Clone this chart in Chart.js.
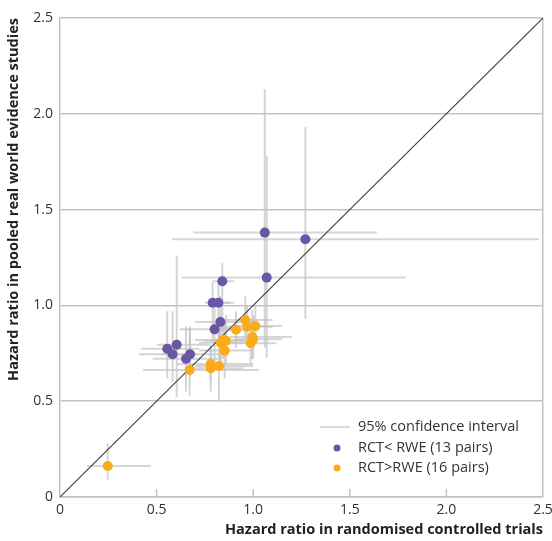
<!DOCTYPE html>
<html>
<head>
<meta charset="utf-8">
<script src="https://cdn.jsdelivr.net/npm/chart.js@4.4.1/dist/chart.umd.min.js"></script>
<style>
  html, body { margin: 0; padding: 0; background: #fff; }
  #wrap { width: 552px; height: 541px; }
</style>
</head>
<body>
<div id="wrap"><canvas id="chart" width="552" height="541"></canvas></div>
<script>
// ── Data (hazard ratios) ────
const TICKS = [0, 0.5, 1.0, 1.5, 2.0, 2.5];
const DIAG = [0, 2.5];

// RCT < RWE (13 pairs)
const rctP   = [1.06, 1.27, 1.07, 0.84, 0.79, 0.82, 0.83, 0.80, 0.555, 0.604, 0.583, 0.673, 0.652];
const rweP   = [1.38, 1.345, 1.145, 1.126, 1.014, 1.014, 0.913, 0.875, 0.774, 0.795, 0.745, 0.745, 0.722];
const rctPLo = [0.69, 0.58, 0.63, 0.79, 0.75, 0.78, 0.70, 0.62, 0.42, 0.50, 0.41, 0.52, 0.48];
const rctPHi = [1.64, 2.48, 1.79, 0.90, 0.88, 0.90, 1.02, 0.98, 0.72, 0.78, 0.71, 0.87, 0.83];
const rwePLo = [0.78, 0.93, 0.73, 0.86, 0.80, 0.82, 0.70, 0.70, 0.62, 0.52, 0.60, 0.63, 0.55];
const rwePHi = [2.13, 1.93, 1.78, 1.22, 1.12, 1.12, 1.05, 1.03, 0.97, 1.26, 0.97, 0.89, 0.89];

// RCT > RWE (16 pairs)
const rctO   = [0.247, 0.671, 0.78, 0.78, 0.823, 0.852, 0.832, 0.859, 0.845, 0.911, 0.959, 0.969, 1.011, 1.0, 0.987, 0.995];
const rweO   = [0.162, 0.663, 0.694, 0.672, 0.684, 0.764, 0.805, 0.816, 0.82, 0.873, 0.924, 0.889, 0.892, 0.823, 0.802, 0.835];
const rctOLo = [0.14, 0.43, 0.60, 0.65, 0.70, 0.72, 0.72, 0.75, 0.70, 0.82, 0.82, 0.85, 0.90, 0.90, 0.85, 0.88];
const rctOHi = [0.47, 1.03, 1.00, 0.95, 1.00, 1.00, 0.98, 1.00, 0.95, 1.02, 1.10, 1.10, 1.15, 1.15, 1.12, 1.20];
const rweOLo = [0.09, 0.53, 0.60, 0.55, 0.50, 0.62, 0.70, 0.70, 0.72, 0.78, 0.82, 0.80, 0.80, 0.72, 0.70, 0.72];
const rweOHi = [0.28, 0.88, 0.79, 0.78, 0.88, 0.92, 0.95, 0.95, 0.93, 0.97, 1.05, 1.00, 1.00, 0.95, 0.92, 0.98];

const LEGEND = ['95% confidence interval', 'RCT< RWE (13 pairs)', 'RCT>RWE (16 pairs)'];

const PURPLE = '#6a56a5';
const ORANGE = '#fbab19';
const GRID = '#c2c2c2';
const CI_COL = 'rgba(195,195,195,0.7)';
const FONT = "'Open Sans', sans-serif";

const pts = (xs, ys) => xs.map((x, i) => ({ x, y: ys[i] }));

// ── Plugin: confidence interval bars + inward x ticks ────
const ciBars = {
    id: 'ciBars',
    beforeDatasetsDraw(chart) {
        const { ctx, scales: { x, y }, chartArea } = chart;
        const groups = [
            [rctP, rweP, rctPLo, rctPHi, rwePLo, rwePHi],
            [rctO, rweO, rctOLo, rctOHi, rweOLo, rweOHi]
        ];
        ctx.save();
        ctx.beginPath();
        ctx.rect(chartArea.left, chartArea.top, chartArea.right - chartArea.left, chartArea.bottom - chartArea.top);
        ctx.clip();
        ctx.strokeStyle = CI_COL;
        ctx.lineWidth = 2;
        groups.forEach(([xs, ys, xlo, xhi, ylo, yhi]) => {
            xs.forEach((v, i) => {
                const px = x.getPixelForValue(v), py = y.getPixelForValue(ys[i]);
                ctx.beginPath();
                ctx.moveTo(x.getPixelForValue(xlo[i]), py);
                ctx.lineTo(x.getPixelForValue(xhi[i]), py);
                ctx.moveTo(px, y.getPixelForValue(ylo[i]));
                ctx.lineTo(px, y.getPixelForValue(yhi[i]));
                ctx.stroke();
            });
        });
        ctx.restore();
        ctx.save();
        ctx.strokeStyle = GRID;
        ctx.lineWidth = 1.5;
        TICKS.slice(1, -1).forEach(t => {
            const px = x.getPixelForValue(t);
            ctx.beginPath();
            ctx.moveTo(px, chartArea.bottom);
            ctx.lineTo(px, chartArea.bottom - 8);
            ctx.stroke();
        });
        ctx.restore();
    }
};

// ── Plugin: legend inside the plot ────
const innerLegend = {
    id: 'innerLegend',
    afterDraw(chart) {
        const { ctx } = chart;
        ctx.save();
        ctx.font = `14.5px ${FONT}`;
        ctx.textBaseline = 'middle';
        const tx = 358, rows = [427, 448, 468];
        ctx.strokeStyle = GRID;
        ctx.lineWidth = 1.2;
        ctx.beginPath();
        ctx.moveTo(320, rows[0]);
        ctx.lineTo(350, rows[0]);
        ctx.stroke();
        [PURPLE, ORANGE].forEach((c, i) => {
            ctx.fillStyle = c;
            ctx.beginPath();
            ctx.arc(337, rows[i + 1], 3.5, 0, Math.PI * 2);
            ctx.fill();
        });
        ctx.fillStyle = '#333';
        LEGEND.forEach((t, i) => ctx.fillText(t, tx, rows[i]));
        ctx.restore();
    }
};

new Chart(document.getElementById('chart'), {
    type: 'scatter',
    data: {
        datasets: [
            {
                label: LEGEND[1],
                data: pts(rctP, rweP),
                backgroundColor: PURPLE,
                borderWidth: 0,
                pointRadius: 5,
                order: 1
            },
            {
                label: LEGEND[2],
                data: pts(rctO, rweO),
                backgroundColor: ORANGE,
                borderWidth: 0,
                pointRadius: 5,
                order: 1
            },
            {
                type: 'line',
                label: 'identity',
                data: pts(DIAG, DIAG),
                borderColor: '#444',
                borderWidth: 1.2,
                pointRadius: 0,
                order: 2
            }
        ]
    },
    options: {
        responsive: false,
        devicePixelRatio: 1,
        animation: false,
        layout: { padding: { top: 18, right: 9, left: 0, bottom: 0 } },
        plugins: { legend: { display: false }, tooltip: { enabled: false } },
        scales: {
            x: {
                type: 'linear',
                min: 0, max: 2.5,
                afterBuildTicks: s => { s.ticks = TICKS.map(v => ({ value: v })); },
                afterFit: s => { s.height = 44; s.paddingLeft = 0; s.paddingRight = 0; },
                ticks: {
                    padding: 5,
                    color: '#333',
                    font: { family: FONT, size: 14 },
                    callback: v => v === 0 ? '0' : v.toFixed(1)
                },
                grid: {
                    drawTicks: false,
                    lineWidth: 1.5,
                    color: c => (c.tick && c.tick.value === 2.5) ? GRID : 'rgba(0,0,0,0)'
                },
                border: { display: true, color: GRID, width: 1.5 },
                title: {
                    display: true,
                    text: 'Hazard ratio in randomised controlled trials',
                    align: 'end',
                    color: '#222',
                    font: { family: FONT, size: 14.5, weight: 'bold' },
                    padding: { top: 0, bottom: 2 }
                }
            },
            y: {
                type: 'linear',
                min: 0, max: 2.5,
                afterBuildTicks: s => { s.ticks = TICKS.map(v => ({ value: v })); },
                afterFit: s => { s.width = 60; s.paddingTop = 0; s.paddingBottom = 0; },
                ticks: {
                    padding: 7,
                    color: '#333',
                    font: { family: FONT, size: 14 },
                    callback: v => v === 0 ? '0' : v.toFixed(1)
                },
                grid: { drawTicks: false, color: GRID, lineWidth: 1.5 },
                border: { display: true, color: GRID, width: 1.5 },
                title: {
                    display: true,
                    text: 'Hazard ratio in pooled real world evidence studies',
                    align: 'end',
                    color: '#222',
                    font: { family: FONT, size: 14.5, weight: 'bold' },
                    padding: { top: 5, bottom: 0 }
                }
            }
        }
    },
    plugins: [ciBars, innerLegend]
});
</script>
</body>
</html>
